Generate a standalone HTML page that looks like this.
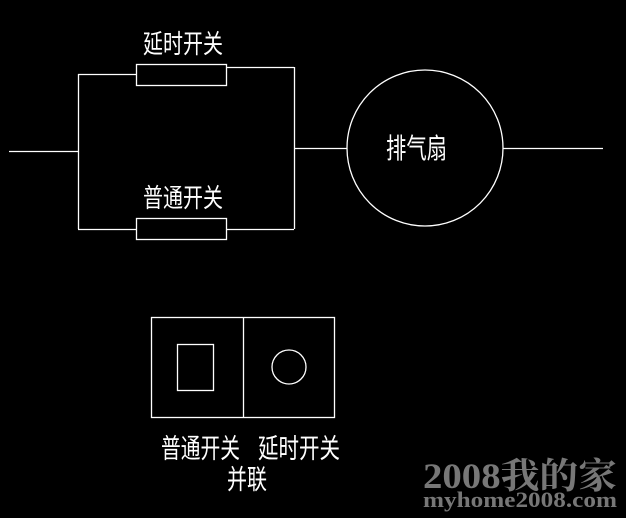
<!DOCTYPE html>
<html><head><meta charset="utf-8"><style>
html,body{margin:0;padding:0;background:#000;width:626px;height:518px;overflow:hidden}
svg{display:block}
text{font-family:"Liberation Sans","Noto Sans CJK SC",sans-serif;fill:#fff}
.w{font-family:"Liberation Serif","Noto Serif CJK SC",serif;font-weight:bold;fill:#777}
</style></head><body>
<svg width="626" height="518" viewBox="0 0 626 518" xmlns="http://www.w3.org/2000/svg">
<g stroke="#fff" stroke-width="1.3" fill="none">
<line x1="9" y1="151.5" x2="78" y2="151.5"/>
<line x1="78.5" y1="74" x2="78.5" y2="229"/>
<line x1="78" y1="74.5" x2="136" y2="74.5"/>
<rect x="136.5" y="64.5" width="90" height="21"/>
<line x1="226" y1="67.5" x2="294" y2="67.5"/>
<line x1="294.5" y1="67" x2="294.5" y2="229"/>
<line x1="78" y1="229.5" x2="136" y2="229.5"/>
<rect x="136.5" y="218.5" width="90" height="21"/>
<line x1="226" y1="229.5" x2="294" y2="229.5"/>
<line x1="294" y1="148.5" x2="347" y2="148.5"/>
<circle cx="425" cy="148" r="78"/>
<line x1="503" y1="148.5" x2="603" y2="148.5"/>
<rect x="151.5" y="317.5" width="183" height="100"/>
<line x1="243.5" y1="317" x2="243.5" y2="417"/>
<rect x="177.5" y="344.5" width="36" height="46"/>
<circle cx="289" cy="367" r="17"/>
</g>
<text x="143" y="53" font-size="26" textLength="80" lengthAdjust="spacingAndGlyphs">延时开关</text>
<text x="143" y="207" font-size="26" textLength="80" lengthAdjust="spacingAndGlyphs">普通开关</text>
<text x="386" y="158" font-size="28" textLength="61" lengthAdjust="spacingAndGlyphs">排气扇</text>
<text x="161" y="458" font-size="27" textLength="79" lengthAdjust="spacingAndGlyphs">普通开关</text>
<text x="258" y="458" font-size="27" textLength="82" lengthAdjust="spacingAndGlyphs">延时开关</text>
<text x="227" y="489" font-size="27" textLength="40" lengthAdjust="spacingAndGlyphs">并联</text>
<text class="w" x="423" y="488" font-size="36" textLength="194" lengthAdjust="spacingAndGlyphs">2008我的家</text>
<text class="w" x="423" y="507" font-size="22" textLength="194" lengthAdjust="spacingAndGlyphs">myhome2008.com</text>
</svg>
</body></html>
